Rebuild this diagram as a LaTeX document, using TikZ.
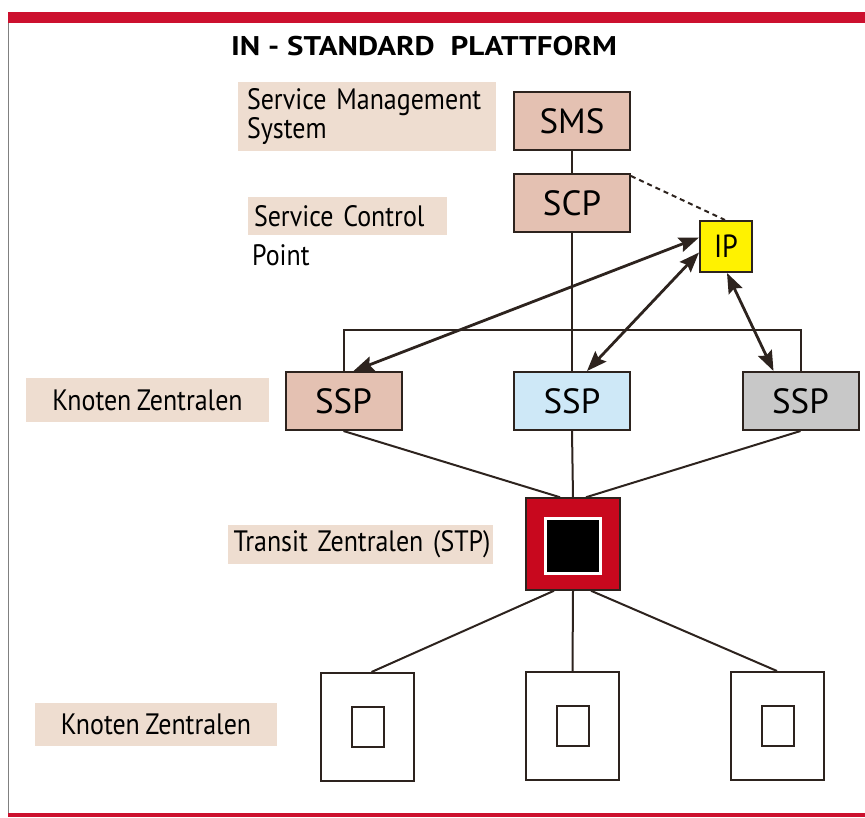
\documentclass[tikz,border=0pt]{standalone}
\usepackage{fontspec}
\setmainfont{PT Sans}
\newfontfamily\lblfont{PT Sans}[FakeStretch=0.88,WordSpace=0.8]
\newfontfamily\titlefont{PT Sans}[FakeStretch=1.15]
\usetikzlibrary{arrows.meta}
\usepackage{xcolor}
\definecolor{framered}{RGB}{204,16,46}
\definecolor{labelbg}{RGB}{238,221,208}
\definecolor{boxfill}{RGB}{228,193,178}
\definecolor{sspblue}{RGB}{206,232,247}
\definecolor{sspgray}{RGB}{200,200,200}
\definecolor{ipyellow}{RGB}{255,242,0}
\definecolor{stpred}{RGB}{200,8,30}
\definecolor{linecol}{RGB}{45,35,30}

\begin{document}
\begin{tikzpicture}[x=1pt,y=-1pt,
    box/.style={draw=linecol, line width=2pt, fill=boxfill, minimum width=116pt, minimum height=58pt, inner sep=0pt, font=\fontsize{35}{40}\selectfont},
    lbl/.style={fill=labelbg, inner sep=0pt, font=\lblfont\fontsize{29.5}{24}\selectfont},
    link/.style={draw=linecol, line width=2pt},
    dbl/.style={draw=linecol, line width=2.8pt, {Stealth[length=20pt,width=15pt,inset=3pt]}-{Stealth[length=20pt,width=15pt,inset=3pt]}},
    knot/.style={draw=linecol, line width=2pt, fill=white, minimum width=93pt, minimum height=108pt, inner sep=0pt},
    knotin/.style={draw=linecol, line width=2pt, minimum width=32pt, minimum height=40pt, inner sep=0pt}]
    \useasboundingbox (0,0) rectangle (865,817);
    \def\dx{0};
    \def\dy{0};
    % frame
    \fill[framered] (\dx+8, \dy+12) rectangle (\dx+865, \dy+23);
    \fill[framered] (\dx+8, \dy+813) rectangle (\dx+865, \dy+817);
    \draw[gray, line width=1pt] (\dx+8, \dy+23) -- (\dx+8, \dy+813);
    \node[font=\titlefont\bfseries\fontsize{27}{30}\selectfont] at (\dx+424, \dy+46) (Title) {IN - STANDARD\ \ PLATTFORM};
    % labels
    \node[lbl, minimum width=258pt, minimum height=69pt, text width=240pt, align=left] at (\dx+367, \dy+116.5) (Lsms) {Service Management\\System};
    \node[lbl, minimum width=199pt, minimum height=38pt, text width=187pt, align=left] at (\dx+347.5, \dy+216) (Lscp) {Service Control};
    \node[inner sep=0pt, anchor=west, font=\lblfont\fontsize{29.5}{30}\selectfont] at (\dx+252, \dy+255) (Lpoint) {Point};
    \node[lbl, minimum width=243pt, minimum height=44pt] at (\dx+147.5, \dy+400) (Lssp) {Knoten Zentralen};
    \node[lbl, minimum width=265pt, minimum height=39pt, text width=260pt, align=right] at (\dx+360.5, \dy+544.5) (Lstp) {Transit Zentralen (STP)};
    \node[lbl, minimum width=242pt, minimum height=43pt] at (\dx+156, \dy+724.5) (Lknot) {Knoten Zentralen};
    % nodes
    \node[box] at (\dx+572, \dy+121) (SMS) {SMS};
    \node[box] at (\dx+572, \dy+203) (SCP) {SCP};
    \node[box, fill=ipyellow, minimum width=52pt, minimum height=51pt, font=\lblfont\fontsize{32}{36}\selectfont] at (\dx+726, \dy+246.5) (IP) {IP};
    \node[box] at (\dx+343.5, \dy+401) (SSP1) {SSP};
    \node[box, fill=sspblue] at (\dx+572, \dy+401) (SSP2) {SSP};
    \node[box, fill=sspgray] at (\dx+800.5, \dy+401) (SSP3) {SSP};
    \node[draw=linecol, line width=1.5pt, fill=stpred, minimum width=94pt, minimum height=92pt] at (\dx+573, \dy+544) (STP) {};
    \node[draw=white, line width=3pt, fill=black, minimum width=55pt, minimum height=55pt, inner sep=0pt] at (\dx+573, \dy+546) (STPin) {};
    \node[knot] at (\dx+367.5, \dy+727) (K1) {};
    \node[knot] at (\dx+572.5, \dy+726) (K2) {};
    \node[knot] at (\dx+777, \dy+726) (K3) {};
    \node[knotin] at (\dx+368, \dy+726.5) (K1in) {};
    \node[knotin] at (\dx+573, \dy+725.5) (K2in) {};
    \node[knotin] at (\dx+778, \dy+725.5) (K3in) {};
    % connections
    \draw[link] (SMS) -- (SCP);
    \draw[link] (SCP) -- (SSP2);
    \draw[link, dash pattern=on 5pt off 4pt] ([yshift=-3pt]SCP.north east) -- ([xshift=-1pt]IP.north);
    \draw[link] (SSP1.north) -- ++(0,-41) -| (SSP3.north);
    \draw[dbl] ([yshift=9pt]IP.west) -- ([xshift=10pt]SSP1.north);
    \draw[dbl] ([yshift=-6pt]IP.west) -- ([xshift=15pt]SSP2.north);
    \draw[dbl] ([xshift=1pt]IP.south) -- ([xshift=-27pt]SSP3.north);
    \draw[link] (SSP1.south) -- ([xshift=-13pt]STP.north);
    \draw[link] (SSP2.south) -- (STP.north);
    \draw[link] (SSP3.south) -- ([xshift=13pt]STP.north);
    \draw[link] ([xshift=-19pt]STP.south) -- ([xshift=4pt]K1.north);
    \draw[link] (STP.south) -- (K2.north);
    \draw[link] ([xshift=18pt]STP.south) -- (K3.north);
\end{tikzpicture}
\end{document}
